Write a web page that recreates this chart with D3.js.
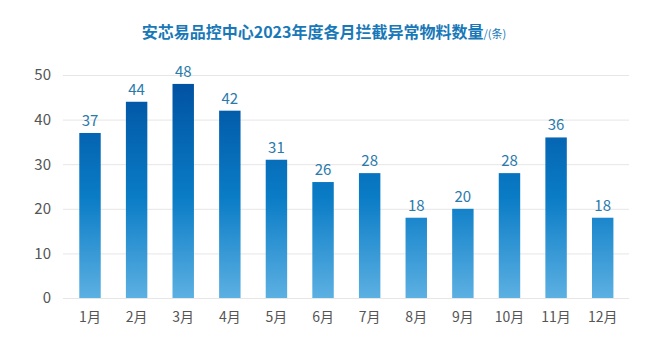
<!DOCTYPE html>
<html><head><meta charset="utf-8">
<script src="https://cdn.jsdelivr.net/npm/d3@7"></script>
<style>body{margin:0;background:#fff;}svg{display:block;font-family:"Noto Sans CJK SC","Noto Sans",sans-serif;}</style>
</head><body><svg id="c" width="650" height="340"></svg>
<script>
const months = ["1月","2月","3月","4月","5月","6月","7月","8月","9月","10月","11月","12月"];
const counts = [37,44,48,42,31,26,28,18,20,28,36,18];
const yTicks = [0,10,20,30,40,50];
const titleMain = "安芯易品控中心2023年度各月拦截异常物料数量";
const titleUnit = "/(条)";

(function(){
const svg = d3.select("#c");
const mLeft = 66.7, mRight = 626, mTop = 75, mBottom = 298;
const x = d3.scaleBand().domain(months).range([mLeft, mRight]).paddingInner(0.54).paddingOuter(0.27);
const y = d3.scaleLinear().domain([0, 50]).range([mBottom, mTop]);

const defs = svg.append("defs");
const g = defs.append("linearGradient").attr("id","bg").attr("gradientUnits","userSpaceOnUse")
  .attr("x1",0).attr("x2",0).attr("y1",y(50)).attr("y2",y(0));
g.append("stop").attr("offset","0%").attr("stop-color","#004f9f");
g.append("stop").attr("offset","55%").attr("stop-color","#0a7cc6");
g.append("stop").attr("offset","100%").attr("stop-color","#5cb0e2");

// title
const t = svg.append("text").attr("x",324).attr("y",38).attr("text-anchor","middle");
t.append("tspan").text(titleMain).attr("font-size",16).attr("font-weight","bold").attr("fill","#1878b8");
t.append("tspan").text(titleUnit).attr("font-size",11).attr("fill","#1878b8");

// grid
svg.append("g").selectAll("line").data(yTicks).join("line")
  .attr("x1",63).attr("x2",629).attr("y1",d=>y(d)+0.5).attr("y2",d=>y(d)+0.5)
  .attr("stroke","#e6e6e6").attr("stroke-width",1);

// y axis labels
const yAxis = d3.axisLeft(y).tickValues(yTicks).tickSize(0).tickPadding(0);
const ya = svg.append("g").attr("transform","translate(51,0)").call(yAxis);
ya.select(".domain").remove();
ya.selectAll("text").attr("font-size",15).attr("fill","#555").attr("font-family","'Noto Sans CJK SC','Noto Sans',sans-serif");

// x axis labels
const xAxis = d3.axisBottom(x).tickSize(0).tickPadding(0);
const xa = svg.append("g").attr("transform",`translate(0,${mBottom+14})`).call(xAxis);
xa.select(".domain").remove();
xa.selectAll("text").attr("font-size",14).attr("fill","#555").attr("font-family","'Noto Sans CJK SC','Noto Sans',sans-serif");

// bars
svg.append("g").selectAll("rect").data(counts).join("rect")
  .attr("x",(d,i)=>x(months[i])).attr("width",x.bandwidth())
  .attr("y",d=>y(d)).attr("height",d=>y(0)-y(d)).attr("fill","url(#bg)");

// values
svg.append("g").selectAll("text").data(counts).join("text")
  .attr("x",(d,i)=>x(months[i])+x.bandwidth()/2).attr("y",d=>y(d)-7)
  .attr("text-anchor","middle").attr("font-size",15).attr("fill","#2a7aac")
  .text(d=>d);
})();
</script></body></html>
